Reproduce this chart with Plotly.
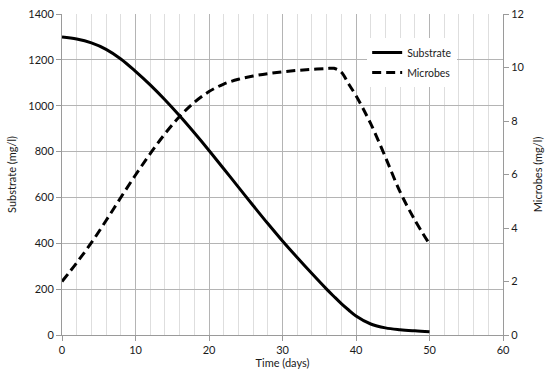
import plotly.graph_objects as go

days = [0, 2, 4, 6, 8, 10, 12, 14, 16, 18, 20, 22, 24, 26, 28, 30, 32, 34, 36, 37, 38, 39, 40, 42, 44, 46, 48, 50]
substrate = [1300, 1291, 1274, 1246, 1204, 1150, 1091, 1026, 956, 882, 805, 725, 645, 565, 486, 410, 338, 268, 200, 168, 137, 109, 83, 48, 31, 23, 18, 14]
microbes = [2.0, 2.7, 3.45, 4.28, 5.14, 5.98, 6.78, 7.52, 8.17, 8.7, 9.1, 9.38, 9.56, 9.68, 9.77, 9.84, 9.89, 9.93, 9.96, 9.97, 9.83, 9.38, 8.95, 7.9, 6.65, 5.35, 4.3, 3.4]

FONT = "Lato"
AX = "#9a9a9a"

fig = go.Figure()
fig.add_trace(go.Scatter(x=days, y=substrate, name="Substrate", mode="lines",
                         line=dict(color="black", width=3, shape="spline", smoothing=1.0),
                         legendgroup="a"))
fig.add_trace(go.Scatter(x=days, y=microbes, name="Microbes", mode="lines", yaxis="y2",
                         line=dict(color="black", width=3, dash="9px,5px", shape="spline", smoothing=1.0),
                         legendgroup="b"))

fig.update_layout(
    width=552, height=374,
    margin=dict(l=62, r=49, t=14, b=39),
    paper_bgcolor="white", plot_bgcolor="white",
    font=dict(family=FONT, size=11, color="#1a1a1a"),
    showlegend=True,
    legend=dict(x=0.692, y=0.925, xanchor="left", yanchor="top",
                bgcolor="white", font=dict(size=10.5, color="#1a1a1a"),
                tracegroupgap=1, itemwidth=30),
    xaxis=dict(range=[0, 60], dtick=10, tick0=0, showgrid=True, gridcolor="#b4b4b4", gridwidth=1,
               minor=dict(dtick=2, showgrid=True, gridcolor="#dedede", gridwidth=1),
               showline=True, linecolor=AX, linewidth=1,
               ticks="outside", ticklen=5, tickcolor=AX, automargin=False,
               title=dict(text="Time (days)", standoff=4, font=dict(size=11)),
               zeroline=False),
    yaxis=dict(range=[0, 1400], dtick=200, showgrid=True, gridcolor="#b4b4b4", gridwidth=1,
               showline=True, linecolor=AX, linewidth=1,
               ticks="outside", ticklen=5, tickcolor=AX, automargin=False,
               title=dict(text="Substrate (mg/l)", standoff=9, font=dict(size=11)),
               zeroline=False),
    yaxis2=dict(range=[0, 12], dtick=2, overlaying="y", side="right", showgrid=False,
                showline=True, linecolor=AX, linewidth=1,
                ticks="outside", ticklen=5, tickcolor=AX, automargin=False,
                title=dict(text="Microbes (mg/l)", standoff=10, font=dict(size=11)),
                zeroline=False),
)

fig.write_html("out.html", config={"displayModeBar": False},
               post_script="document.body.style.margin='0';document.body.style.overflow='hidden';")
